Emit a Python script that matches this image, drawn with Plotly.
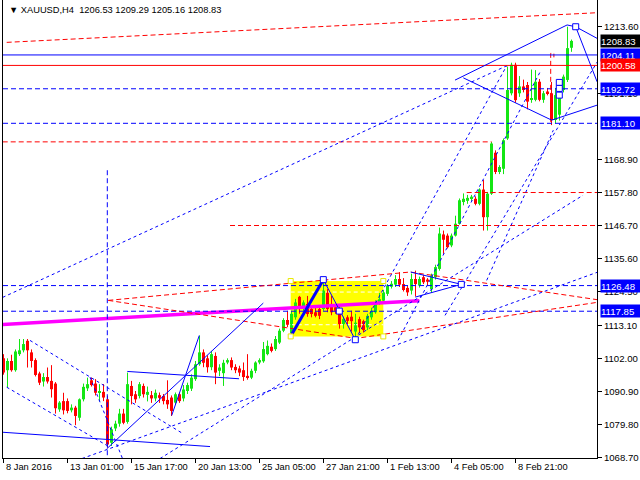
"""
XAUUSD H4 图表复刻（MT4 风格）
"""

import plotly.graph_objects as go

# K线数据：开高低收
opens = [1102.0, 1098.0, 1101.1, 1098.0, 1103.4, 1104.7, 1107.9, 1104.0, 1101.4, 1096.9,
         1094.2, 1095.7, 1094.4, 1093.5, 1084.8, 1087.6, 1087.6, 1084.5, 1085.4, 1082.0,
         1088.2, 1091.9, 1094.6, 1093.5, 1090.4, 1090.7, 1088.2, 1073.6, 1078.4, 1080.0,
         1083.4, 1080.6, 1092.7, 1089.9, 1089.3, 1092.7, 1089.7, 1089.6, 1088.5, 1089.6,
         1089.3, 1088.0, 1088.8, 1087.1, 1089.9, 1088.5, 1091.0, 1091.8, 1095.0, 1100.0,
         1104.0, 1102.0, 1099.0, 1102.8, 1097.8, 1097.0, 1100.6, 1101.4, 1099.1, 1098.6,
         1098.0, 1096.1, 1095.5, 1097.8, 1100.6, 1101.0, 1103.4, 1105.9, 1105.1, 1107.3,
         1111.3, 1114.9, 1110.5, 1115.8, 1122.7, 1118.6, 1120.3, 1118.6, 1117.5, 1118.6,
         1118.6, 1124.2, 1120.3, 1119.2, 1117.5, 1113.5, 1115.8, 1116.0, 1111.0, 1115.2,
         1114.5, 1112.4, 1115.8, 1117.5, 1120.8, 1121.4, 1123.7, 1126.1, 1126.8, 1128.7,
         1127.0, 1125.7, 1124.8, 1128.7, 1126.5, 1129.3, 1128.5, 1125.3, 1129.3, 1132.1,
         1143.7, 1143.3, 1140.0, 1143.3, 1147.3, 1154.6, 1155.0, 1155.9, 1155.7, 1154.0,
         1158.8, 1149.5, 1157.4, 1171.2, 1164.7, 1165.8, 1176.0, 1191.2, 1200.8, 1191.2,
         1193.5, 1194.0, 1189.0, 1189.0, 1195.1, 1189.0, 1191.8, 1191.2, 1182.2, 1184.0,
         1192.3, 1195.7, 1206.53]
highs = [1103.4, 1102.0, 1103.2, 1105.0, 1108.5, 1108.5, 1108.5, 1105.0, 1102.0, 1097.5,
         1097.0, 1098.9, 1099.7, 1094.0, 1087.6, 1090.4, 1088.5, 1086.5, 1086.0, 1088.5,
         1093.5, 1095.5, 1095.5, 1095.0, 1093.3, 1093.3, 1089.3, 1079.0, 1081.0, 1085.0,
         1085.0, 1097.2, 1094.4, 1091.0, 1094.0, 1093.5, 1092.5, 1091.0, 1091.5, 1090.5,
         1090.0, 1094.6, 1089.5, 1090.5, 1090.5, 1093.0, 1093.8, 1096.6, 1101.1, 1109.6,
         1105.0, 1103.0, 1104.5, 1104.0, 1100.0, 1101.5, 1102.0, 1102.3, 1100.0, 1099.5,
         1100.6, 1103.4, 1098.5, 1101.0, 1102.0, 1107.5, 1108.0, 1107.0, 1109.5, 1112.0,
         1115.5, 1118.0, 1118.0, 1122.0, 1123.0, 1121.5, 1123.0, 1119.0, 1119.0, 1119.5,
         1128.4, 1125.3, 1123.0, 1120.0, 1119.5, 1116.0, 1116.5, 1118.0, 1117.0, 1116.0,
         1115.0, 1117.0, 1119.0, 1121.5, 1124.0, 1125.0, 1127.0, 1128.0, 1130.0, 1131.0,
         1129.0, 1126.5, 1130.5, 1131.5, 1129.5, 1130.0, 1129.0, 1130.5, 1133.5, 1146.0,
         1145.0, 1144.0, 1144.0, 1150.0, 1155.8, 1157.5, 1157.0, 1157.0, 1156.5, 1159.2,
         1162.0, 1158.0, 1174.8, 1172.0, 1167.0, 1176.0, 1200.2, 1201.5, 1201.5, 1197.0,
         1195.8, 1195.0, 1199.2, 1199.0, 1196.0, 1192.0, 1193.0, 1195.0, 1193.0, 1193.0,
         1197.5, 1213.6, 1209.29]
lows = [1096.5, 1092.1, 1097.5, 1097.5, 1102.8, 1104.0, 1098.9, 1098.9, 1095.9, 1093.0,
        1092.5, 1093.5, 1088.8, 1083.4, 1084.0, 1083.1, 1083.5, 1083.8, 1079.5, 1081.0,
        1087.5, 1091.0, 1092.5, 1089.5, 1087.6, 1087.6, 1071.9, 1072.5, 1077.5, 1079.0,
        1079.8, 1080.0, 1086.5, 1087.0, 1088.5, 1088.8, 1087.5, 1087.0, 1087.5, 1087.0,
        1086.5, 1085.0, 1082.6, 1086.5, 1087.0, 1087.5, 1090.0, 1091.0, 1094.4, 1099.5,
        1099.0, 1097.2, 1098.0, 1093.3, 1096.0, 1092.7, 1100.0, 1098.0, 1097.0, 1096.0,
        1094.4, 1094.8, 1095.0, 1097.0, 1100.0, 1100.5, 1103.0, 1104.0, 1104.5, 1106.8,
        1110.8, 1112.5, 1110.0, 1115.0, 1117.0, 1118.0, 1116.0, 1115.8, 1115.8, 1115.2,
        1118.0, 1117.5, 1116.5, 1117.0, 1112.0, 1112.0, 1113.5, 1111.0, 1108.5, 1110.5,
        1110.7, 1111.5, 1115.0, 1117.0, 1120.0, 1120.8, 1123.0, 1125.5, 1126.0, 1126.0,
        1124.5, 1123.0, 1123.5, 1122.8, 1125.8, 1127.0, 1126.5, 1124.0, 1128.5, 1131.5,
        1137.2, 1139.0, 1139.4, 1143.0, 1147.0, 1153.5, 1154.0, 1155.0, 1153.5, 1153.5,
        1145.0, 1145.0, 1157.0, 1164.0, 1164.0, 1164.0, 1175.5, 1190.5, 1188.0, 1190.0,
        1191.5, 1185.8, 1188.0, 1188.5, 1188.5, 1188.0, 1190.5, 1180.5, 1181.0, 1182.0,
        1191.5, 1195.0, 1205.16]
closes = [1097.2, 1101.1, 1098.0, 1104.3, 1104.7, 1106.8, 1104.7, 1101.1, 1096.4, 1093.8,
          1095.7, 1094.2, 1091.6, 1085.2, 1087.1, 1084.5, 1084.3, 1085.4, 1082.6, 1088.2,
          1092.4, 1093.3, 1093.0, 1090.4, 1091.0, 1088.8, 1073.0, 1078.1, 1080.0, 1083.4,
          1080.3, 1093.3, 1089.3, 1088.2, 1093.3, 1089.9, 1090.7, 1088.5, 1090.4, 1088.7,
          1087.6, 1086.5, 1084.3, 1089.9, 1087.6, 1091.5, 1093.0, 1095.5, 1100.0, 1104.0,
          1100.5, 1099.0, 1103.4, 1097.2, 1098.9, 1100.5, 1101.4, 1098.9, 1098.0, 1097.2,
          1095.7, 1095.5, 1097.8, 1100.6, 1101.4, 1105.1, 1106.2, 1104.5, 1108.5, 1111.3,
          1114.9, 1113.3, 1117.0, 1120.8, 1118.6, 1120.8, 1116.9, 1116.9, 1116.3, 1116.3,
          1124.8, 1118.6, 1117.5, 1118.0, 1113.5, 1115.2, 1114.6, 1114.5, 1114.0, 1112.4,
          1111.5, 1116.3, 1118.0, 1120.8, 1121.9, 1124.2, 1126.5, 1127.1, 1128.7, 1126.8,
          1125.0, 1124.2, 1128.7, 1127.0, 1128.7, 1127.6, 1127.8, 1129.8, 1132.7, 1144.0,
          1141.9, 1139.4, 1143.3, 1147.3, 1155.2, 1155.7, 1156.0, 1156.4, 1154.0, 1158.8,
          1149.5, 1157.4, 1174.3, 1164.7, 1166.4, 1175.4, 1192.3, 1200.8, 1188.9, 1193.5,
          1192.3, 1188.4, 1189.6, 1195.1, 1189.0, 1191.2, 1191.2, 1182.2, 1190.6, 1191.5,
          1196.8, 1206.4, 1208.83]

# x 轴刻度（K线序号）与标签
tick_bars = [0, 16, 32, 48, 64, 80, 96, 112, 128]
tick_labels = ['8 Jan 2016', '13 Jan 01:00', '15 Jan 17:00', '20 Jan 13:00', '25 Jan 05:00',
               '27 Jan 21:00', '1 Feb 13:00', '4 Feb 05:00', '8 Feb 21:00']

# y 轴刻度（被价格标签完全遮住的刻度不画）
price_ticks = [1068.70, 1079.80, 1090.90, 1102.00, 1113.10, 1124.50, 1135.60,
               1146.70, 1157.80, 1168.90, 1191.10, 1213.60]

# 右侧价格标签
tag_prices = [1208.83, 1204.11, 1200.58, 1192.72, 1181.10, 1126.48, 1117.85]

# 水平线价位
blue_solid_levels = [1204.11]
red_solid_levels = [1200.58]
blue_dash_levels = [1192.72, 1181.10, 1126.48, 1117.85]

# 图形对象锚点：(K线序号, 价格)
red_dash_lines = [
    [(0.8, 1208.34), (148.4, 1218.32)],
    [(26.2, 1121.5), (101.63, 1131.04), (148.4, 1121.74)],
    [(26.2, 1121.5), (88.13, 1108.7), (148.4, 1120.83)],
    [(-0.2, 1174.85), (122.05, 1174.85)],
    [(115.8, 1157.8), (148.4, 1157.8)],
    [(56.63, 1146.7), (148.4, 1146.7)],
    [(136.8, 1181.59), (136.8, 1204.64), (137.6, 1204.64), (137.6, 1203.3)],
]
blue_dash_lines = [
    [(25.95, 1165.31), (25.95, 1068.0)],
]
blue_dot_lines = [
    [(-0.2, 1122.51), (125.8, 1200.46)],
    [(87.95, 1108.26), (125.8, 1200.46)],
    [(110.38, 1116.45), (148.4, 1201.7)],
    [(98.63, 1108.02), (134.13, 1198.33)],
    [(19.63, 1068.26), (148.4, 1130.94)],
    [(39.13, 1068.26), (144.88, 1156.88)],
    [(6.63, 1108.02), (44.95, 1076.58)],
    [(0.8, 1092.28), (26.63, 1072.07)],
    [(21.63, 1095.66), (29.95, 1067.59)],
    [(120.8, 1128.24), (137.45, 1178.79)],
]
blue_solid_lines = [
    [(-0.2, 1077.12), (51.63, 1072.3)],
    [(30.95, 1097.58), (49.13, 1095.89), (58.88, 1095.12)],
    [(25.8, 1071.53), (64.95, 1120.59)],
    [(42.05, 1082.75), (48.95, 1109.71)],
    [(79.95, 1128.48), (87.95, 1108.26)],
    [(101.8, 1131.04), (114.45, 1126.89), (102.95, 1122.61)],
    [(112.88, 1195.64), (140.9, 1214.2), (143.05, 1213.6), (148.4, 1209.69)],
    [(114.95, 1196.4), (137.05, 1182.16), (148.4, 1187.21)],
    [(143.05, 1213.6), (148.4, 1195.07)],
]
blue_bold_lines = [
    [(72.05, 1110.0), (79.95, 1128.48)],
]
magenta_lines = [
    [(-0.2, 1113.41), (103.95, 1121.4)],
]
blue_marks = [(79.95, 1128.48), (83.95, 1117.9), (87.95, 1108.26), (114.45, 1126.89),
              (143.05, 1213.6), (138.95, 1194.86), (138.95, 1192.84), (138.95, 1190.58)]

# 黄色矩形（K线序号范围、价格范围）及其内部虚线
yellow_rect = [71.8, 94.95, 1109.37, 1128.01]
white_dash_levels = [1124.30, 1113.31]

X_RANGE = [-0.125, 148.375]
Y_RANGE = [1068.45, 1222.6]

UP = '#14e614'
DOWN = '#ff0000'
BLUE = '#0000ff'
RED = '#ff0000'
FONT = 'Liberation Sans, Arial'
FONT_SIZE = 9.3


def flatten(lines):
    """把多段折线拼成带 None 分隔的坐标序列"""
    xs, ys = [], []
    for pts in lines:
        for x, y in pts:
            xs.append(x)
            ys.append(y)
        xs.append(None)
        ys.append(None)
    return xs, ys


def line_trace(lines, color, width=1, dash='solid'):
    xs, ys = flatten(lines)
    return go.Scatter(x=xs, y=ys, mode='lines', hoverinfo='skip',
                      line=dict(color=color, width=width, dash=dash))


def level_lines(levels):
    return [[(X_RANGE[0], p), (X_RANGE[1], p)] for p in levels]


fig = go.Figure()

# 黄色矩形（背景）
x0, x1, y0, y1 = yellow_rect
fig.add_shape(type='rect', xref='x', yref='y', x0=x0, x1=x1, y0=y0, y1=y1,
              fillcolor='#ffff00', line=dict(width=0), layer='below')
fig.add_trace(line_trace([[(x0, p), (x1, p)] for p in white_dash_levels],
                         '#ffffff', 1, '4px,3px'))

# 蜡烛图：影线 + 实体
for up in (True, False):
    color = UP if up else DOWN
    idx = [i for i in range(len(opens)) if (closes[i] >= opens[i]) == up]
    wx, wy = [], []
    for i in idx:
        wx += [i, i, None]
        wy += [lows[i], highs[i], None]
    fig.add_trace(go.Scatter(x=wx, y=wy, mode='lines', hoverinfo='skip',
                             line=dict(color=color, width=1)))
    fig.add_trace(go.Bar(
        x=idx,
        base=[min(opens[i], closes[i]) for i in idx],
        y=[max(abs(closes[i] - opens[i]), 0.35) for i in idx],
        width=0.75, hoverinfo='skip',
        marker=dict(color=color, line=dict(width=0)),
    ))

# 趋势线和水平线
fig.add_trace(line_trace(magenta_lines, '#ff00ff', 3.5))
fig.add_trace(line_trace(level_lines(blue_dash_levels) + blue_dash_lines, BLUE, 1, '5px,3px'))
fig.add_trace(line_trace(red_dash_lines, RED, 1, '5px,3px'))
fig.add_trace(line_trace(blue_dot_lines, BLUE, 1, '3px,3px'))
fig.add_trace(line_trace(level_lines(blue_solid_levels), BLUE, 1))
fig.add_trace(line_trace(level_lines(red_solid_levels), RED, 1))
fig.add_trace(line_trace(blue_solid_lines, BLUE, 1))
fig.add_trace(line_trace(blue_bold_lines, BLUE, 3))

# 锚点小方块
fig.add_trace(go.Scatter(
    x=[p[0] for p in blue_marks], y=[p[1] for p in blue_marks], mode='markers',
    hoverinfo='skip', marker=dict(symbol='square', size=6, color='white',
                                  line=dict(color=BLUE, width=1)),
))
fig.add_trace(go.Scatter(
    x=[x0, x1, x0, x1], y=[y0, y0, y1, y1], mode='markers', hoverinfo='skip',
    marker=dict(symbol='square', size=5, color='white', line=dict(color='#e8e800', width=1)),
))

annotations = []
# 标题
annotations.append(dict(
    x=0, y=1, xref='paper', yref='paper', xanchor='left', yanchor='top',
    xshift=4, yshift=-3, showarrow=False,
    text='\u25bc XAUUSD,H4\u00a0\u00a01206.53 1209.29 1205.16 1208.83',
    font=dict(family=FONT, size=FONT_SIZE, color='black'),
))
# x 轴标签（MT4 左对齐）
for tb, lab in zip(tick_bars, tick_labels):
    annotations.append(dict(
        x=tb, y=0, xref='x', yref='paper', xanchor='left', yanchor='top',
        xshift=0, yshift=-2, showarrow=False, text=lab,
        font=dict(family=FONT, size=FONT_SIZE, color='black'),
    ))
# 右侧价格标签
tag_colors = ['#000000', BLUE, RED, BLUE, BLUE, BLUE, BLUE]
for p, c in zip(tag_prices, tag_colors):
    annotations.append(dict(
        x=1, y=p, xref='paper', yref='y', xanchor='left', yanchor='middle',
        xshift=3, showarrow=False, text=f'{p:.2f}', bgcolor=c, borderpad=0,
        width=40, height=12, align='left',
        font=dict(family=FONT, size=9.6, color='white'),
    ))

fig.update_layout(
    width=640, height=480,
    margin=dict(l=3, r=43, t=0, b=22),
    paper_bgcolor='white', plot_bgcolor='white',
    showlegend=False, barmode='overlay',
    annotations=annotations,
    xaxis=dict(range=X_RANGE, showgrid=False, zeroline=False, showline=True,
               linecolor='black', linewidth=1, ticks='outside', ticklen=4,
               tickcolor='black', tickvals=tick_bars, showticklabels=False),
    yaxis=dict(range=Y_RANGE, side='right', showgrid=False, zeroline=False,
               showline=True, mirror=True, linecolor='black', linewidth=1,
               ticks='outside', ticklen=4, tickcolor='black',
               tickvals=price_ticks, ticktext=[f'{v:.2f}' for v in price_ticks],
               tickfont=dict(family=FONT, size=9.6, color='black')),
)

fig.write_html('out.html', config={'displayModeBar': False},
               post_script="document.body.style.margin='0';")
